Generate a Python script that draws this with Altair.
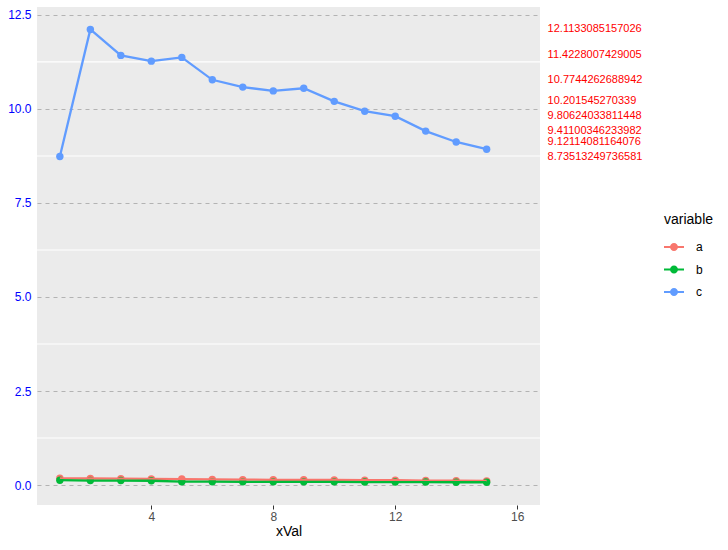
import altair as alt
import pandas as pd

x_vals = list(range(1, 16))
a_vals = [0.18, 0.175, 0.17, 0.165, 0.16, 0.15, 0.145, 0.14, 0.14, 0.135, 0.13, 0.13, 0.12, 0.115, 0.11]
b_vals = [0.13, 0.12, 0.12, 0.115, 0.09, 0.09, 0.085, 0.085, 0.085, 0.085, 0.08, 0.08, 0.08, 0.075, 0.075]
c_vals = [8.73513249736581, 12.1133085157026, 11.4228007429005, 11.27, 11.37, 10.7744262688942,
          10.58, 10.48, 10.55, 10.201545270339, 9.94, 9.80624033811448, 9.41100346233982,
          9.12114081164076, 8.93]
label_vals = [12.1133085157026, 11.4228007429005, 10.7744262688942, 10.201545270339,
              9.80624033811448, 9.41100346233982, 9.12114081164076, 8.73513249736581]
label_texts = ["12.1133085157026", "11.4228007429005", "10.7744262688942", "10.201545270339",
               "9.80624033811448", "9.41100346233982", "9.12114081164076", "8.73513249736581"]
label_x = 17
minor_y = [1.25, 3.75, 6.25, 8.75, 11.25]
major_y = [0, 2.5, 5, 7.5, 10, 12.5]
x_ticks = [4, 8, 12, 16]

rows = []
for name, vals in (("a", a_vals), ("b", b_vals), ("c", c_vals)):
    for xv, yv in zip(x_vals, vals):
        rows.append({"xVal": xv, "value": yv, "variable": name})
df = pd.DataFrame(rows)
labels_df = pd.DataFrame({"x": [label_x] * len(label_vals), "y": label_vals, "t": label_texts})
minor_df = pd.DataFrame({"y": minor_y})

xscale = alt.Scale(domain=[0.25, 16.75], nice=False, zero=False)
yscale = alt.Scale(domain=[-0.53, 12.71], nice=False, zero=False)
cscale = alt.Scale(domain=["a", "b", "c"], range=["#F8766D", "#00BA38", "#619CFF"])

xaxis = alt.Axis(values=x_ticks, grid=False, title="xVal", labelColor="#4D4D4D",
                 labelFontSize=12, labelFont="Liberation Sans", tickColor="#333333",
                 tickSize=4, labelPadding=2, domain=False, titleFontSize=14,
                 titleFont="Liberation Sans", titleFontWeight="normal", titleColor="#000000",
                 titlePadding=2)
yaxis = alt.Axis(values=major_y, format=".1f", grid=True, gridDash=[4, 4], gridColor="#B3B3B3",
                 gridWidth=1, ticks=False, domain=False, labelColor="#0000FF", labelFontSize=12,
                 labelFont="Liberation Sans", labelPadding=6, title=None)

legend_path = ("M-1,-0.1 L1,-0.1 L1,0.1 L-1,0.1 Z "
               "M0.4,0 A0.4,0.4 0 1,1 -0.4,0 A0.4,0.4 0 1,1 0.4,0 Z")
legend = alt.Legend(
    title="variable", orient="none", legendX=627, legendY=206,
    symbolType=legend_path, symbolSize=400, symbolStrokeWidth=0,
    titleFontSize=14, titleFont="Liberation Sans", titleFontWeight="normal",
    titleColor="#000000", labelFontSize=12, labelFont="Liberation Sans",
    labelColor="#000000", rowPadding=6.5, titlePadding=10, labelOffset=12,
    symbolOpacity=1)

minor = alt.Chart(minor_df).mark_rule(color="white", strokeWidth=1.1).encode(
    y=alt.Y("y:Q", scale=yscale, axis=yaxis),
)

points = alt.Chart(df).mark_point(filled=True, size=55, opacity=1).encode(
    x=alt.X("xVal:Q", scale=xscale, axis=xaxis),
    y=alt.Y("value:Q", scale=yscale, axis=yaxis),
    color=alt.Color("variable:N", scale=cscale, legend=legend),
)

lines = alt.Chart(df).mark_line(strokeWidth=2.3).encode(
    x=alt.X("xVal:Q", scale=xscale, axis=xaxis),
    y=alt.Y("value:Q", scale=yscale, axis=yaxis),
    color=alt.Color("variable:N", scale=cscale, legend=legend),
)

texts = alt.Chart(labels_df).mark_text(align="left", baseline="middle", color="#FF0000",
                                        fontSize=11, font="Liberation Sans").encode(
    x=alt.X("x:Q", scale=xscale),
    y=alt.Y("y:Q", scale=yscale),
    text="t:N",
)

chart = alt.layer(minor, points, lines, texts).properties(
    width=503, height=498,
    autosize=alt.AutoSizeParams(type="none"),
    padding={"left": 37, "top": 7, "right": 188, "bottom": 45},
    background="white",
).configure_view(fill="#EBEBEB", stroke=None)

chart.save("out.html", embed_options={"renderer": "svg", "actions": False})
